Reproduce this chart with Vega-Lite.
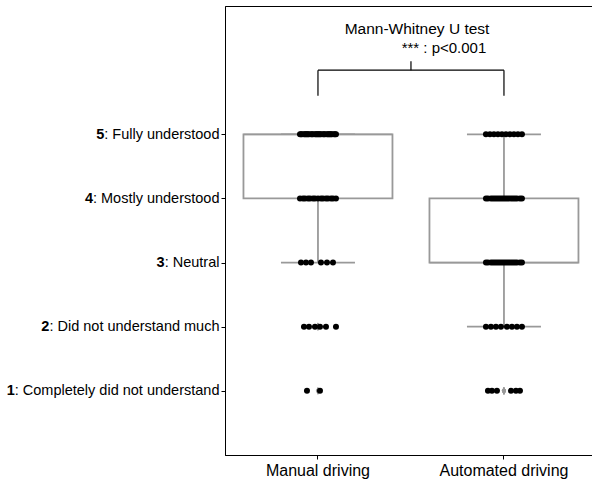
{
  "$schema": "https://vega.github.io/schema/vega-lite/v6.json",
  "width": 367,
  "height": 449,
  "autosize": "none",
  "padding": {"left": 225, "top": 6, "right": 0, "bottom": 24},
  "background": "white",
  "config": {
    "view": {"stroke": "black", "strokeWidth": 1},
    "font": "Liberation Sans",
    "axis": {"domainColor": "black", "tickColor": "black", "labelColor": "black", "labelFont": "Liberation Sans", "grid": false, "domainWidth": 1, "tickWidth": 1, "tickSize": 4, "labelLimit": 0}
  },
  "datasets": {
    "ratings": [
      {"condition": "Manual driving", "score": 1, "jitter": -11},
      {"condition": "Manual driving", "score": 1, "jitter": 2},
      {"condition": "Manual driving", "score": 2, "jitter": -14},
      {"condition": "Manual driving", "score": 2, "jitter": -9},
      {"condition": "Manual driving", "score": 2, "jitter": -3},
      {"condition": "Manual driving", "score": 2, "jitter": 2},
      {"condition": "Manual driving", "score": 2, "jitter": 8},
      {"condition": "Manual driving", "score": 2, "jitter": 18},
      {"condition": "Manual driving", "score": 3, "jitter": -17},
      {"condition": "Manual driving", "score": 3, "jitter": -12},
      {"condition": "Manual driving", "score": 3, "jitter": -7},
      {"condition": "Manual driving", "score": 3, "jitter": 3},
      {"condition": "Manual driving", "score": 3, "jitter": 9},
      {"condition": "Manual driving", "score": 3, "jitter": 15},
      {"condition": "Manual driving", "score": 4, "jitter": -18},
      {"condition": "Manual driving", "score": 4, "jitter": -15},
      {"condition": "Manual driving", "score": 4, "jitter": -13},
      {"condition": "Manual driving", "score": 4, "jitter": -10},
      {"condition": "Manual driving", "score": 4, "jitter": -8},
      {"condition": "Manual driving", "score": 4, "jitter": -5},
      {"condition": "Manual driving", "score": 4, "jitter": -3},
      {"condition": "Manual driving", "score": 4, "jitter": 0},
      {"condition": "Manual driving", "score": 4, "jitter": 3},
      {"condition": "Manual driving", "score": 4, "jitter": 5},
      {"condition": "Manual driving", "score": 4, "jitter": 8},
      {"condition": "Manual driving", "score": 4, "jitter": 10},
      {"condition": "Manual driving", "score": 4, "jitter": 13},
      {"condition": "Manual driving", "score": 4, "jitter": 15},
      {"condition": "Manual driving", "score": 4, "jitter": 18},
      {"condition": "Manual driving", "score": 5, "jitter": -18},
      {"condition": "Manual driving", "score": 5, "jitter": -17},
      {"condition": "Manual driving", "score": 5, "jitter": -16},
      {"condition": "Manual driving", "score": 5, "jitter": -14},
      {"condition": "Manual driving", "score": 5, "jitter": -13},
      {"condition": "Manual driving", "score": 5, "jitter": -12},
      {"condition": "Manual driving", "score": 5, "jitter": -11},
      {"condition": "Manual driving", "score": 5, "jitter": -10},
      {"condition": "Manual driving", "score": 5, "jitter": -9},
      {"condition": "Manual driving", "score": 5, "jitter": -7},
      {"condition": "Manual driving", "score": 5, "jitter": -6},
      {"condition": "Manual driving", "score": 5, "jitter": -5},
      {"condition": "Manual driving", "score": 5, "jitter": -3},
      {"condition": "Manual driving", "score": 5, "jitter": -2},
      {"condition": "Manual driving", "score": 5, "jitter": -1},
      {"condition": "Manual driving", "score": 5, "jitter": 0},
      {"condition": "Manual driving", "score": 5, "jitter": 1},
      {"condition": "Manual driving", "score": 5, "jitter": 2},
      {"condition": "Manual driving", "score": 5, "jitter": 3},
      {"condition": "Manual driving", "score": 5, "jitter": 5},
      {"condition": "Manual driving", "score": 5, "jitter": 6},
      {"condition": "Manual driving", "score": 5, "jitter": 7},
      {"condition": "Manual driving", "score": 5, "jitter": 9},
      {"condition": "Manual driving", "score": 5, "jitter": 10},
      {"condition": "Manual driving", "score": 5, "jitter": 11},
      {"condition": "Manual driving", "score": 5, "jitter": 12},
      {"condition": "Manual driving", "score": 5, "jitter": 13},
      {"condition": "Manual driving", "score": 5, "jitter": 14},
      {"condition": "Manual driving", "score": 5, "jitter": 16},
      {"condition": "Manual driving", "score": 5, "jitter": 17},
      {"condition": "Manual driving", "score": 5, "jitter": 18},
      {"condition": "Automated driving", "score": 1, "jitter": -16},
      {"condition": "Automated driving", "score": 1, "jitter": -12},
      {"condition": "Automated driving", "score": 1, "jitter": -7},
      {"condition": "Automated driving", "score": 1, "jitter": 7},
      {"condition": "Automated driving", "score": 1, "jitter": 12},
      {"condition": "Automated driving", "score": 1, "jitter": 16},
      {"condition": "Automated driving", "score": 2, "jitter": -18},
      {"condition": "Automated driving", "score": 2, "jitter": -13},
      {"condition": "Automated driving", "score": 2, "jitter": -8},
      {"condition": "Automated driving", "score": 2, "jitter": -3},
      {"condition": "Automated driving", "score": 2, "jitter": 3},
      {"condition": "Automated driving", "score": 2, "jitter": 8},
      {"condition": "Automated driving", "score": 2, "jitter": 13},
      {"condition": "Automated driving", "score": 2, "jitter": 18},
      {"condition": "Automated driving", "score": 3, "jitter": -18},
      {"condition": "Automated driving", "score": 3, "jitter": -16},
      {"condition": "Automated driving", "score": 3, "jitter": -13},
      {"condition": "Automated driving", "score": 3, "jitter": -11},
      {"condition": "Automated driving", "score": 3, "jitter": -9},
      {"condition": "Automated driving", "score": 3, "jitter": -7},
      {"condition": "Automated driving", "score": 3, "jitter": -5},
      {"condition": "Automated driving", "score": 3, "jitter": -3},
      {"condition": "Automated driving", "score": 3, "jitter": -1},
      {"condition": "Automated driving", "score": 3, "jitter": 1},
      {"condition": "Automated driving", "score": 3, "jitter": 3},
      {"condition": "Automated driving", "score": 3, "jitter": 5},
      {"condition": "Automated driving", "score": 3, "jitter": 7},
      {"condition": "Automated driving", "score": 3, "jitter": 9},
      {"condition": "Automated driving", "score": 3, "jitter": 11},
      {"condition": "Automated driving", "score": 3, "jitter": 13},
      {"condition": "Automated driving", "score": 3, "jitter": 16},
      {"condition": "Automated driving", "score": 3, "jitter": 18},
      {"condition": "Automated driving", "score": 4, "jitter": -18},
      {"condition": "Automated driving", "score": 4, "jitter": -16},
      {"condition": "Automated driving", "score": 4, "jitter": -13},
      {"condition": "Automated driving", "score": 4, "jitter": -11},
      {"condition": "Automated driving", "score": 4, "jitter": -9},
      {"condition": "Automated driving", "score": 4, "jitter": -7},
      {"condition": "Automated driving", "score": 4, "jitter": -5},
      {"condition": "Automated driving", "score": 4, "jitter": -3},
      {"condition": "Automated driving", "score": 4, "jitter": -1},
      {"condition": "Automated driving", "score": 4, "jitter": 1},
      {"condition": "Automated driving", "score": 4, "jitter": 3},
      {"condition": "Automated driving", "score": 4, "jitter": 5},
      {"condition": "Automated driving", "score": 4, "jitter": 7},
      {"condition": "Automated driving", "score": 4, "jitter": 9},
      {"condition": "Automated driving", "score": 4, "jitter": 11},
      {"condition": "Automated driving", "score": 4, "jitter": 13},
      {"condition": "Automated driving", "score": 4, "jitter": 16},
      {"condition": "Automated driving", "score": 4, "jitter": 18},
      {"condition": "Automated driving", "score": 5, "jitter": -18},
      {"condition": "Automated driving", "score": 5, "jitter": -14},
      {"condition": "Automated driving", "score": 5, "jitter": -10},
      {"condition": "Automated driving", "score": 5, "jitter": -6},
      {"condition": "Automated driving", "score": 5, "jitter": -2},
      {"condition": "Automated driving", "score": 5, "jitter": 2},
      {"condition": "Automated driving", "score": 5, "jitter": 6},
      {"condition": "Automated driving", "score": 5, "jitter": 10},
      {"condition": "Automated driving", "score": 5, "jitter": 14},
      {"condition": "Automated driving", "score": 5, "jitter": 18}
    ]
  },
  "layer": [
    {
      "data": {"name": "ratings"},
      "mark": {
        "type": "boxplot",
        "extent": 1.5,
        "size": 149,
        "box": {"fill": "white", "stroke": "#999999", "strokeWidth": 1.8},
        "median": {"color": "#999999", "thickness": 1.8},
        "rule": {"color": "#999999", "strokeWidth": 1.8},
        "ticks": {"color": "#999999", "size": 74, "thickness": 1.8},
        "outliers": {"shape": "M0,-1L0.55,0L0,1L-0.55,0Z", "color": "#999999", "filled": true, "size": 60, "opacity": 1}
      },
      "encoding": {
        "x": {
          "field": "condition", "type": "nominal",
          "scale": {"domain": ["Manual driving", "Automated driving"], "paddingInner": 0.5, "paddingOuter": 0.2366, "align": 0.528},
          "axis": {"title": null, "labelFontSize": 16, "labelAngle": 0, "labelPadding": 3, "tickSize": 4}
        },
        "y": {
          "field": "score", "type": "quantitative",
          "scale": {"domain": [0, 7], "nice": false, "zero": false},
          "axis": {
            "orient": "left", "title": null, "values": [1, 2, 3, 4, 5],
            "labelFontSize": 14.5, "labelPadding": 2,
            "labelExpr": "datum.value == 5 ? ': Fully understood' : datum.value == 4 ? ': Mostly understood' : datum.value == 3 ? ': Neutral' : datum.value == 2 ? ': Did not understand much' : ': Completely did not understand'"
          }
        }
      }
    },
    {
      "data": {"name": "ratings"},
      "mark": {"type": "circle", "size": 36, "color": "black", "opacity": 1},
      "encoding": {
        "x": {"field": "condition", "type": "nominal"},
        "xOffset": {"field": "jitter", "type": "quantitative", "scale": {"domain": [-21, 21], "range": [25.5, 67.5]}},
        "y": {
          "field": "score", "type": "quantitative",
          "axis": {
            "orient": "left", "title": null, "values": [1, 2, 3, 4, 5],
            "labelFontSize": 14.5, "labelPadding": 2, "labelFontWeight": "bold",
            "domain": false, "tickOpacity": 0,
            "labelExpr": "'' + datum.value",
            "encoding": {
              "labels": {
                "dx": {
                  "condition": [
                    {"test": "datum.value == 5", "value": -115.25},
                    {"test": "datum.value == 4", "value": -126.53},
                    {"test": "datum.value == 3", "value": -54.8},
                    {"test": "datum.value == 2", "value": -170.06},
                    {"test": "datum.value == 1", "value": -204.71}
                  ],
                  "value": 0
                }
              }
            }
          }
        }
      }
    },
    {
      "data": {"values": [
        {"condition": "Manual driving", "low": 5.6, "high": 6.0},
        {"condition": "Automated driving", "low": 5.6, "high": 6.0}
      ]},
      "mark": {"type": "rule", "color": "black", "strokeWidth": 1.2},
      "encoding": {
        "x": {"field": "condition", "type": "nominal"},
        "y": {"field": "low", "type": "quantitative", "axis": null},
        "y2": {"field": "high"}
      }
    },
    {
      "data": {"values": [{"from": "Manual driving", "to": "Automated driving", "level": 6.0}]},
      "mark": {"type": "rule", "color": "black", "strokeWidth": 1.2},
      "encoding": {
        "x": {"field": "from", "type": "nominal"},
        "x2": {"field": "to"},
        "y": {"field": "level", "type": "quantitative", "axis": null}
      }
    },
    {
      "data": {"values": [{"from": "Manual driving", "level": 6.0, "top": 6.14}]},
      "mark": {"type": "rule", "color": "black", "strokeWidth": 1.2},
      "encoding": {
        "x": {"field": "from", "type": "nominal", "bandPosition": 1.5},
        "y": {"field": "level", "type": "quantitative", "axis": null},
        "y2": {"field": "top"}
      }
    },
    {
      "data": {"values": [{"from": "Manual driving", "label": "Mann-Whitney U test", "level": 6.64}]},
      "mark": {"type": "text", "fontSize": 15.5, "color": "black", "align": "center", "baseline": "middle", "font": "Liberation Sans"},
      "encoding": {
        "x": {"field": "from", "type": "nominal", "bandPosition": 1.565},
        "y": {"field": "level", "type": "quantitative", "axis": null},
        "text": {"field": "label"}
      }
    },
    {
      "data": {"values": [{"from": "Manual driving", "label": "*** : p<0.001", "level": 6.345}]},
      "mark": {"type": "text", "fontSize": 15, "color": "black", "align": "center", "baseline": "middle", "font": "Liberation Sans"},
      "encoding": {
        "x": {"field": "from", "type": "nominal", "bandPosition": 1.855},
        "y": {"field": "level", "type": "quantitative", "axis": null},
        "text": {"field": "label"}
      }
    }
  ],
  "resolve": {"axis": {"y": "independent"}}
}
